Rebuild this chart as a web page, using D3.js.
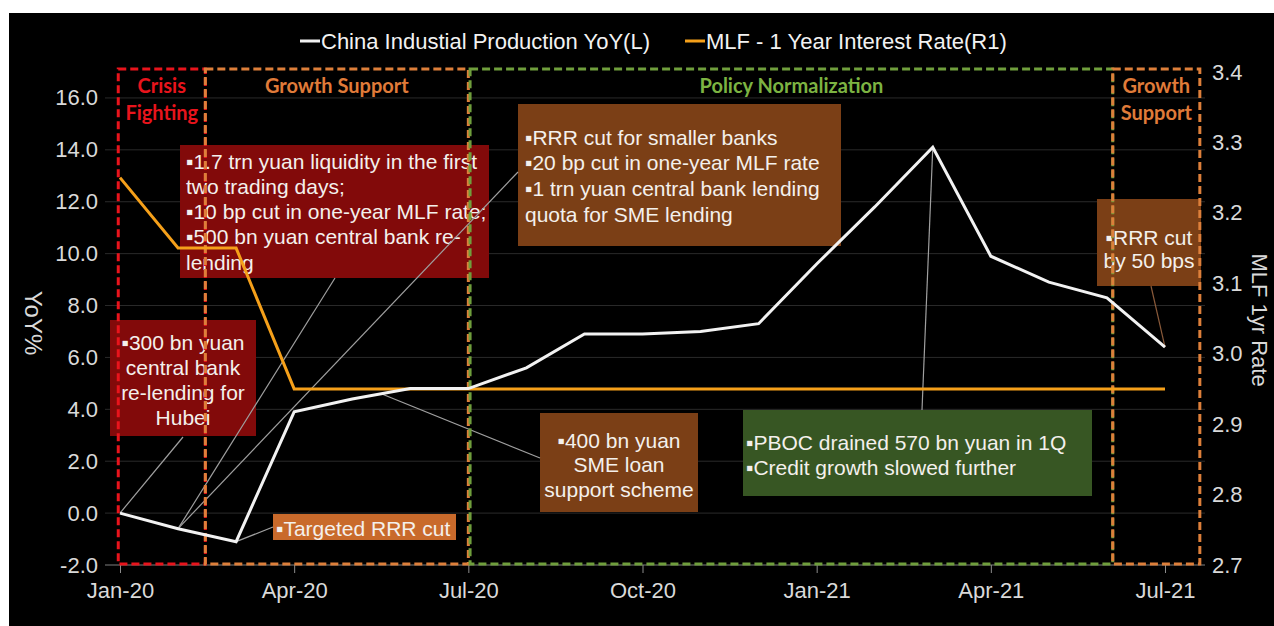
<!DOCTYPE html>
<html>
<head>
<meta charset="utf-8">
<script src="https://cdn.jsdelivr.net/npm/d3@7"></script>
<style>
  body { margin: 0; background: #fff; }
  svg { display: block; }
  text { font-family: "Liberation Sans", Arial, sans-serif; }
</style>
</head>
<body>
<svg id="chart" width="1274" height="626"></svg>
<script>
// ---- data ----
const months = ["Jan-20","Feb-20","Mar-20","Apr-20","May-20","Jun-20","Jul-20","Aug-20","Sep-20",
                "Oct-20","Nov-20","Dec-20","Jan-21","Feb-21","Mar-21","Apr-21","May-21","Jun-21","Jul-21"];
const ipYoY   = [0.0, -0.6, -1.1, 3.9, 4.4, 4.8, 4.8, 5.6, 6.9, 6.9, 7.0, 7.3, 9.6, 11.8, 14.1, 9.9, 8.9, 8.3, 6.4];
const mlfRate = [3.25, 3.15, 3.15, 2.95, 2.95, 2.95, 2.95, 2.95, 2.95, 2.95, 2.95, 2.95, 2.95, 2.95, 2.95, 2.95, 2.95, 2.95, 2.95];
const xTickLabels = ["Jan-20","Apr-20","Jul-20","Oct-20","Jan-21","Apr-21","Jul-21"];
const leftTicks  = [-2, 0, 2, 4, 6, 8, 10, 12, 14, 16];
const rightTicks = [2.7, 2.8, 2.9, 3.0, 3.1, 3.2, 3.3, 3.4];
const seriesNames = ["China Industial Production YoY(L)", "MLF - 1 Year Interest Rate(R1)"];
const leftTitle = "YoY%";
const rightTitle = "MLF 1yr Rate";

// policy phases, bounds in month-index units
const phaseNames  = [["Crisis","Fighting"], ["Growth Support"], ["Policy Normalization"], ["Growth","Support"]];
const phaseBounds = [[-0.03, 1.47], [1.47, 6.0], [6.03, 17.1], [17.1, 18.6]];

// annotation texts
const noteLiquidity = ["\u25AA1.7 trn yuan liquidity in the first", "two trading days;", "\u25AA10 bp cut in one-year MLF rate;", "\u25AA500 bn yuan central bank re-", "lending"];
const noteHubei     = ["\u25AA300 bn yuan", "central bank", "re-lending for", "Hubei"];
const noteTargeted  = ["\u25AATargeted RRR cut"];
const noteSmallBank = ["\u25AARRR cut for smaller banks", "\u25AA20 bp cut in one-year MLF rate", "\u25AA1 trn yuan central bank lending", "quota for SME lending"];
const noteSME       = ["\u25AA400 bn yuan", "SME loan", "support scheme"];
const noteDrain     = ["\u25AAPBOC drained 570 bn yuan in 1Q", "\u25AACredit growth slowed further"];
const noteCut50     = ["\u25AARRR cut", "by 50 bps"];

// ---- layout ----
const svg = d3.select("#chart");
const W = 1274, H = 626;
const plot = { left: 105, right: 1205, top: 72, bottom: 565 };

svg.append("rect").attr("x", 9).attr("y", 13).attr("width", W - 9).attr("height", H - 13).attr("fill", "#000");

const idx = d3.range(months.length);
const x = d3.scaleLinear().domain([0, months.length - 1]).range([120, 1165]);
const yL = d3.scaleLinear().domain([-2, 17]).range([plot.bottom, plot.top]);
const yR = d3.scaleLinear().domain([2.7, 3.4]).range([plot.bottom, plot.top]);

const axisColor = "#d9d9d9";
const fmt1 = v => d3.format(".1f")(v).replace("\u2212", "-");

// gridlines
svg.append("g").selectAll("line").data(leftTicks.filter(d => d > -2)).join("line")
  .attr("x1", plot.left).attr("x2", plot.right)
  .attr("y1", d => yL(d)).attr("y2", d => yL(d))
  .attr("stroke", "#2a2a2a").attr("stroke-width", 1);

// left axis
const gL = svg.append("g").attr("transform", `translate(${plot.left - 5},0)`)
  .call(d3.axisLeft(yL).tickValues(leftTicks).tickFormat(fmt1).tickSize(0).tickPadding(2));
gL.select(".domain").remove();
gL.selectAll("text").attr("fill", axisColor).attr("font-size", 22).style("font-family", "'Liberation Sans', Arial, sans-serif");

// right axis
const gR = svg.append("g").attr("transform", `translate(${plot.right + 5},0)`)
  .call(d3.axisRight(yR).tickValues(rightTicks).tickFormat(fmt1).tickSize(0).tickPadding(2));
gR.select(".domain").remove();
gR.selectAll("text").attr("fill", axisColor).attr("font-size", 22).style("font-family", "'Liberation Sans', Arial, sans-serif");

// bottom axis
const xTickIdx = xTickLabels.map(l => months.indexOf(l));
const gB = svg.append("g").attr("transform", `translate(0,${plot.bottom})`)
  .call(d3.axisBottom(x).tickValues(xTickIdx).tickFormat(i => months[i]).tickSize(8).tickPadding(9).tickSizeOuter(0));
gB.select(".domain").attr("stroke", "#7f7f7f").attr("d", `M${plot.left},0H${plot.right}`);
gB.selectAll(".tick line").attr("stroke", "#8c8c8c");
gB.selectAll("text").attr("fill", axisColor).attr("font-size", 22).style("font-family", "'Liberation Sans', Arial, sans-serif");

// axis titles
svg.append("text").attr("transform", `translate(25,323) rotate(90)`)
  .attr("text-anchor", "middle").attr("fill", axisColor).attr("font-size", 24).text(leftTitle);
svg.append("text").attr("transform", `translate(1252,320) rotate(90)`)
  .attr("text-anchor", "middle").attr("fill", axisColor).attr("font-size", 22).text(rightTitle);

// legend
const legend = svg.append("g");
[[300, "#f2f2f2"], [685, "#f5a01a"]].forEach(([lx, c], i) => {
  legend.append("line").attr("x1", lx).attr("x2", lx + 20).attr("y1", 41).attr("y2", 41)
    .attr("stroke", c).attr("stroke-width", 3);
  legend.append("text").attr("x", lx + 21).attr("y", 49).attr("fill", "#f2f2f2")
    .attr("font-size", 22).text(seriesNames[i]);
});

// ---- annotation boxes ----
const notes = [
  { lines: noteLiquidity, box: [180, 145, 309, 133], fill: "#820a0a", align: "start", tx: 186, ty: 161, gap: 25.3 },
  { lines: noteHubei,     box: [110, 320, 146, 116], fill: "#820a0a", align: "middle", tx: 183, ty: 342, gap: 25 },
  { lines: noteTargeted,  box: [273, 514, 183, 26],  fill: "#c96a2b", align: "start", tx: 276, ty: 528, gap: 25 },
  { lines: noteSmallBank, box: [518, 104, 323, 142], fill: "#7b3f16", align: "start", tx: 525, ty: 137, gap: 25.7 },
  { lines: noteSME,       box: [540, 413, 158, 99],  fill: "#7b3f16", align: "middle", tx: 619, ty: 440, gap: 24.5 },
  { lines: noteDrain,     box: [743, 410, 349, 86],  fill: "#375623", align: "start", tx: 746, ty: 442, gap: 25 },
  { lines: noteCut50,     box: [1097, 199, 104, 87], fill: "#7b3f16", align: "middle", tx: 1149, ty: 237, gap: 23 }
];
const gNotes = svg.append("g");
notes.forEach(n => {
  gNotes.append("rect").attr("x", n.box[0]).attr("y", n.box[1]).attr("width", n.box[2]).attr("height", n.box[3])
    .attr("fill", n.fill);
  n.lines.forEach((t, k) => {
    gNotes.append("text").attr("x", n.tx).attr("y", n.ty + k * n.gap + 7.5)
      .attr("text-anchor", n.align).attr("fill", "#f4f0ec").attr("font-size", 21).text(t);
  });
});

// leader lines: data point -> annotation box
const ipAt = i => {
  const a = Math.floor(i), b = Math.min(a + 1, ipYoY.length - 1), f = i - a;
  return ipYoY[a] * (1 - f) + ipYoY[b] * f;
};
const leaders = [
  { i: 0,   to: [183, 437], c: "#a0a0a0" },
  { i: 1,   to: [335, 278], c: "#a0a0a0" },
  { i: 1,   to: [518, 172], c: "#a0a0a0" },
  { i: 2,   to: [273, 527], c: "#a0a0a0" },
  { i: 4.5, to: [540, 458], c: "#a0a0a0" },
  { i: 14,  to: [922, 410], c: "#a0a0a0" },
  { i: 18,  to: [1151, 286], c: "#8a5a3a" }
];
svg.append("g").selectAll("line").data(leaders).join("line")
  .attr("x1", d => x(d.i)).attr("y1", d => yL(ipAt(d.i)))
  .attr("x2", d => d.to[0]).attr("y2", d => d.to[1])
  .attr("stroke", d => d.c).attr("stroke-width", 1.2);

// ---- policy phase frames ----
const phaseColors = ["#e8141c", "#dd7f3a", "#6f9e3c", "#dd7f3a"];
const phaseText   = ["#e8141c", "#e07b39", "#7cb342", "#e07b39"];
const gPh = svg.append("g");
const phaseTop = 69, phaseBottom = 564;
phaseBounds.forEach((b, k) => {
  gPh.append("rect").attr("x", x(b[0])).attr("y", phaseTop)
    .attr("width", x(b[1]) - x(b[0])).attr("height", phaseBottom - phaseTop)
    .attr("fill", "none").attr("stroke", phaseColors[k]).attr("stroke-width", 3)
    .attr("stroke-dasharray", "8,4");
  const cx = (x(b[0]) + x(b[1])) / 2;
  phaseNames[k].forEach((t, j) => {
    gPh.append("text").attr("x", cx).attr("y", 93 + j * 27).attr("text-anchor", "middle")
      .attr("fill", phaseText[k]).attr("font-size", 20).attr("font-weight", 700)
      .style("font-family", "Lato, 'Open Sans', sans-serif").text(t);
  });
});

// ---- series ----
svg.append("path").datum(idx)
  .attr("d", d3.line().x(i => x(i)).y(i => yR(mlfRate[i])))
  .attr("fill", "none").attr("stroke", "#f5a01a").attr("stroke-width", 3);
svg.append("path").datum(idx)
  .attr("d", d3.line().x(i => x(i)).y(i => yL(ipYoY[i])))
  .attr("fill", "none").attr("stroke", "#f2f2f2").attr("stroke-width", 3);
</script>
</body>
</html>
